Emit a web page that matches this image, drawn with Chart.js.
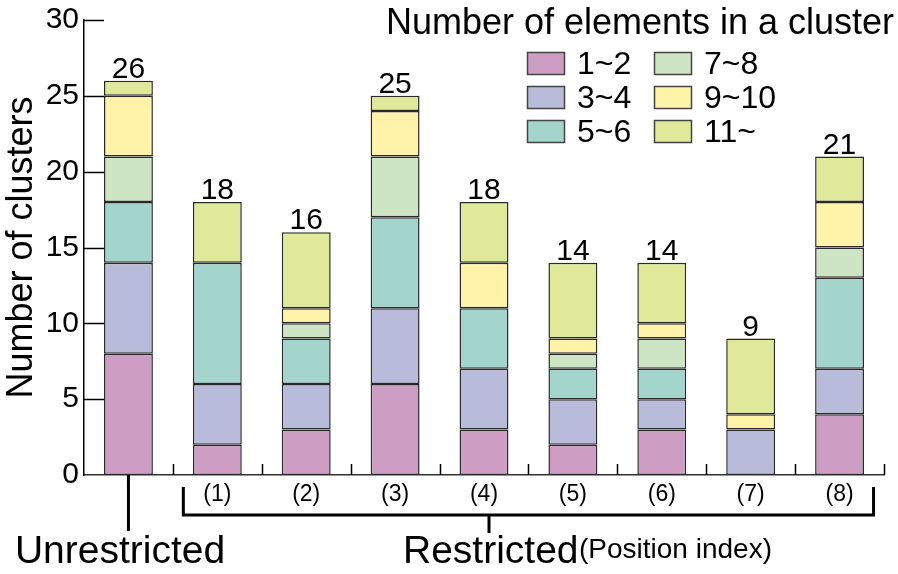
<!DOCTYPE html>
<html>
<head>
<meta charset="utf-8">
<script src="https://cdn.jsdelivr.net/npm/chart.js@4.4.1/dist/chart.umd.min.js"></script>
<style>
  html, body { margin: 0; padding: 0; background: #fff; }
  #wrap { width: 898px; height: 574px; position: relative; }
</style>
</head>
<body>
<div id="wrap"><canvas id="grafico"></canvas></div>
<script>
// categories (first is the unrestricted case, then position index 1..8)
const categorias = ['Unrestricted', '(1)', '(2)', '(3)', '(4)', '(5)', '(6)', '(7)', '(8)'];
const grupos = ['1~2', '3~4', '5~6', '7~8', '9~10', '11~'];

// clusters per size group
const g1a2  = [8, 2, 3, 6, 3, 2, 3, 0, 4];
const g3a4  = [6, 4, 3, 5, 4, 3, 2, 3, 3];
const g5a6  = [4, 8, 3, 6, 4, 2, 2, 0, 6];
const g7a8  = [3, 0, 1, 4, 0, 1, 2, 0, 2];
const g9a10 = [4, 0, 1, 3, 3, 1, 1, 1, 3];
const g11   = [1, 4, 5, 1, 4, 5, 4, 5, 3];

const yTicks = [0, 5, 10, 15, 20, 25, 30];

const colores = ['#cd9dc4', '#b8bbd9', '#a4d5cc', '#cde4c5', '#fff3a9', '#dfe99a'];
const series = [g1a2, g3a4, g5a6, g7a8, g9a10, g11];

const FONT = 'Arial, "Liberation Sans", Helvetica, sans-serif';

const extras = {
  id: 'extras',
  afterDraw(chart) {
    const ctx = chart.ctx;
    const x = chart.scales.x, y = chart.scales.y;
    const area = chart.chartArea;
    ctx.save();
    ctx.strokeStyle = '#000';
    ctx.fillStyle = '#000';

    // inward tick marks on y
    ctx.lineWidth = 1.5;
    yTicks.forEach(v => {
      if (v === 0) return;
      const py = Math.round(y.getPixelForValue(v)) + 0.5;
      ctx.beginPath();
      ctx.moveTo(area.left, py);
      ctx.lineTo(area.left + 20, py);
      ctx.stroke();
    });

    // inward tick marks between categories on x
    const paso = x.getPixelForValue(1) - x.getPixelForValue(0);
    for (let i = 1; i <= categorias.length; i++) {
      const px = Math.round(x.getPixelForValue(i) - paso / 2) + 0.5;
      ctx.beginPath();
      ctx.moveTo(px, area.bottom);
      ctx.lineTo(px, area.bottom - 11);
      ctx.stroke();
    }

    // totals above bars
    ctx.font = '30px ' + FONT;
    ctx.textAlign = 'center';
    ctx.textBaseline = 'alphabetic';
    categorias.forEach((c, i) => {
      const total = series.reduce((s, arr) => s + arr[i], 0);
      ctx.fillText(String(total), x.getPixelForValue(i), y.getPixelForValue(total) - 3);
    });

    // position index labels
    ctx.font = '23px ' + FONT;
    ctx.textBaseline = 'middle';
    for (let i = 1; i < categorias.length; i++) {
      ctx.fillText(categorias[i], x.getPixelForValue(i), 495);
    }

    // unrestricted connector
    ctx.lineWidth = 3;
    const cx0 = x.getPixelForValue(0);
    ctx.beginPath();
    ctx.moveTo(cx0, area.bottom);
    ctx.lineTo(cx0, 531);
    ctx.stroke();

    // restricted bracket
    const izq = x.getPixelForValue(1) - 34;
    const der = x.getPixelForValue(8) + 34;
    ctx.beginPath();
    ctx.moveTo(izq, 487);
    ctx.lineTo(izq, 515);
    ctx.lineTo(der, 515);
    ctx.lineTo(der, 487);
    ctx.stroke();
    const medio = x.getPixelForValue(4) + 5;
    ctx.beginPath();
    ctx.moveTo(medio, 515);
    ctx.lineTo(medio, 533);
    ctx.stroke();

    ctx.textBaseline = 'alphabetic';
    ctx.font = '39px ' + FONT;
    ctx.textAlign = 'center';
    ctx.fillText('Unrestricted', 120, 563);
    ctx.textAlign = 'left';
    ctx.fillText('Restricted', 403, 563);
    ctx.font = '28px ' + FONT;
    ctx.fillText('(Position index)', 579, 558);

    // legend
    ctx.font = '36px ' + FONT;
    ctx.textAlign = 'center';
    ctx.fillText('Number of elements in a cluster', 640, 34);
    ctx.font = '32px ' + FONT;
    ctx.textAlign = 'left';
    ctx.textBaseline = 'middle';
    ctx.lineWidth = 1.5;
    grupos.forEach((g, i) => {
      const col = Math.floor(i / 3), fila = i % 3;
      const bx = col === 0 ? 527 : 654;
      const by = 52 + fila * 34;
      ctx.fillStyle = colores[i];
      ctx.fillRect(bx, by, 38, 23);
      ctx.strokeStyle = '#444';
      ctx.strokeRect(bx + 0.5, by + 0.5, 37, 22);
      ctx.fillStyle = '#000';
      ctx.fillText(g, bx + 50, by + 13);
    });
    ctx.restore();
  }
};

new Chart(document.getElementById('grafico'), {
  type: 'bar',
  data: {
    labels: categorias,
    datasets: grupos.map((g, i) => ({
      label: g,
      data: series[i],
      backgroundColor: colores[i],
      borderColor: '#2a2a2a',
      borderWidth: 1.5,
      borderSkipped: false,
      categoryPercentage: 1,
      barPercentage: 0.55
    }))
  },
  options: {
    responsive: true,
    maintainAspectRatio: false,
    devicePixelRatio: 1,
    animation: false,
    layout: { padding: { top: 20, right: 14, left: 0, bottom: 0 } },
    plugins: {
      legend: { display: false },
      title: { display: false },
      tooltip: { enabled: false }
    },
    scales: {
      x: {
        stacked: true,
        grid: { display: false, drawTicks: false },
        border: { display: true, color: '#333', width: 1.5 },
        ticks: { display: false },
        afterFit(scale) { scale.height = 99; }
      },
      y: {
        stacked: true,
        min: 0,
        max: 30,
        grid: { display: false, drawTicks: false },
        border: { display: true, color: '#000', width: 1.5 },
        ticks: {
          stepSize: 5,
          padding: 5,
          color: '#000',
          font: { family: FONT, size: 30 }
        },
        title: {
          display: true,
          text: 'Number of clusters',
          color: '#000',
          font: { family: FONT, size: 36 },
          padding: { top: 0, bottom: 0 }
        },
        afterFit(scale) {
          scale.width = 84;
          scale.paddingTop = 0;
          scale.paddingBottom = 0;
        }
      }
    }
  },
  plugins: [extras]
});
</script>
</body>
</html>
